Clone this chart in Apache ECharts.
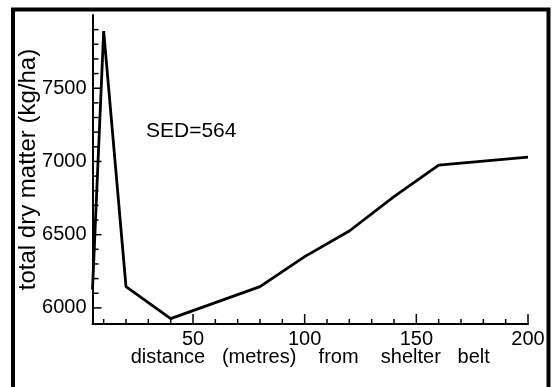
<!DOCTYPE html>
<html>
<head>
<meta charset="utf-8">
<script src="https://cdn.jsdelivr.net/npm/echarts@6/dist/echarts.min.js"></script>
<style>
html,body{margin:0;padding:0;background:#fff;}
#chart{width:552px;height:387px;}
</style>
</head>
<body>
<div id="chart"></div>
<script>
// Data
const distance = [5, 10, 20, 40, 80, 100, 120, 140, 160, 200];
const dryMatter = [6125, 7890, 6145, 5927, 6145, 6350, 6525, 6760, 6975, 7030];

// Tick positions
const xMinorTicks = [10, 20, 30, 40, 50, 60, 70, 80, 90, 100, 110, 120, 130, 140, 150, 160, 170, 180, 190, 200];
const xMajorTicks = [50, 100, 150, 200];
const yMinorTicks = [6000, 6100, 6200, 6300, 6400, 6500, 6600, 6700, 6800, 6900, 7000, 7100, 7200, 7300, 7400, 7500, 7600, 7700, 7800, 7900];
const yMajorTicks = [6000, 6500, 7000, 7500];

const xTitle = 'distance   (metres)    from    shelter   belt';
const yTitle = 'total dry matter (kg/ha)';
const note = 'SED=564';

const X_MIN = 5, X_MAX = 200, Y_MIN = 5890, Y_MAX = 8000;
const FONT = 'Liberation Sans, Arial, Helvetica, sans-serif';
const chart = echarts.init(document.getElementById('chart'), null, {renderer: 'canvas'});

const seriesData = distance.map((d, i) => [d, dryMatter[i]]);

const option = {
  animation: false,
  backgroundColor: '#ffffff',
  grid: {left: 92.5, right: 24, top: 15, bottom: 63, containLabel: false, outerBoundsMode: 'none'},
  xAxis: {
    type: 'value', min: X_MIN, max: X_MAX, position: 'bottom',
    axisLine: {show: true, lineStyle: {color: '#000', width: 2}},
    axisTick: {show: false},
    axisLabel: {show: true, customValues: xMajorTicks, margin: 5, fontFamily: FONT, fontSize: 20, color: '#000',
      formatter: (v) => String(v)},
    splitLine: {show: false},
    name: xTitle, nameLocation: 'middle', nameGap: 23, nameMoveOverlap: false,
    nameTextStyle: {fontFamily: FONT, fontSize: 20, color: '#000'}
  },
  yAxis: {
    type: 'value', min: Y_MIN, max: Y_MAX, position: 'left',
    axisLine: {show: true, lineStyle: {color: '#000', width: 2}},
    axisTick: {show: false},
    axisLabel: {show: true, customValues: yMajorTicks, margin: 6, fontFamily: FONT, fontSize: 20, color: '#000',
      formatter: (v) => String(v)},
    splitLine: {show: false},
    name: yTitle, nameLocation: 'middle', nameGap: 52, nameRotate: 90, nameMoveOverlap: false,
    nameTextStyle: {fontFamily: FONT, fontSize: 24, color: '#000'}
  },
  series: [
    {
      type: 'line',
      data: seriesData,
      showSymbol: false,
      symbol: 'none',
      lineStyle: {color: '#000', width: 2.8},
      z: 5
    },
    {
      // x-axis tick marks, pointing into the plot
      type: 'custom',
      silent: true,
      clip: false,
      data: xMinorTicks.map(v => [v, Y_MIN]),
      renderItem: (params, api) => {
        const v = api.value(0);
        const p = api.coord([v, Y_MIN]);
        const len = xMajorTicks.includes(v) ? 10 : 5;
        return {type: 'line', shape: {x1: p[0], y1: p[1], x2: p[0], y2: p[1] - len},
          style: {stroke: '#000', lineWidth: 1.5}};
      },
      z: 4
    },
    {
      // y-axis tick marks, pointing into the plot
      type: 'custom',
      silent: true,
      clip: false,
      data: yMinorTicks.map(v => [X_MIN, v]),
      renderItem: (params, api) => {
        const v = api.value(1);
        const p = api.coord([X_MIN, v]);
        const len = yMajorTicks.includes(v) ? 9 : 6;
        return {type: 'line', shape: {x1: p[0], y1: p[1], x2: p[0] + len, y2: p[1]},
          style: {stroke: '#000', lineWidth: 1.5}};
      },
      z: 4
    }
  ],
  graphic: [
    {
      type: 'polyline', z: 100,
      shape: {points: [[13, 390], [13, 9.5], [548.5, 9.5], [548.5, 390]]},
      style: {stroke: '#000', lineWidth: 4, fill: null}
    },
    {
      type: 'text', z: 100,
      style: {text: note, x: 146, y: 121, font: '21px ' + FONT, fill: '#000', textAlign: 'left', textVerticalAlign: 'top'}
    }
  ]
};
chart.setOption(option);
</script>
</body>
</html>
